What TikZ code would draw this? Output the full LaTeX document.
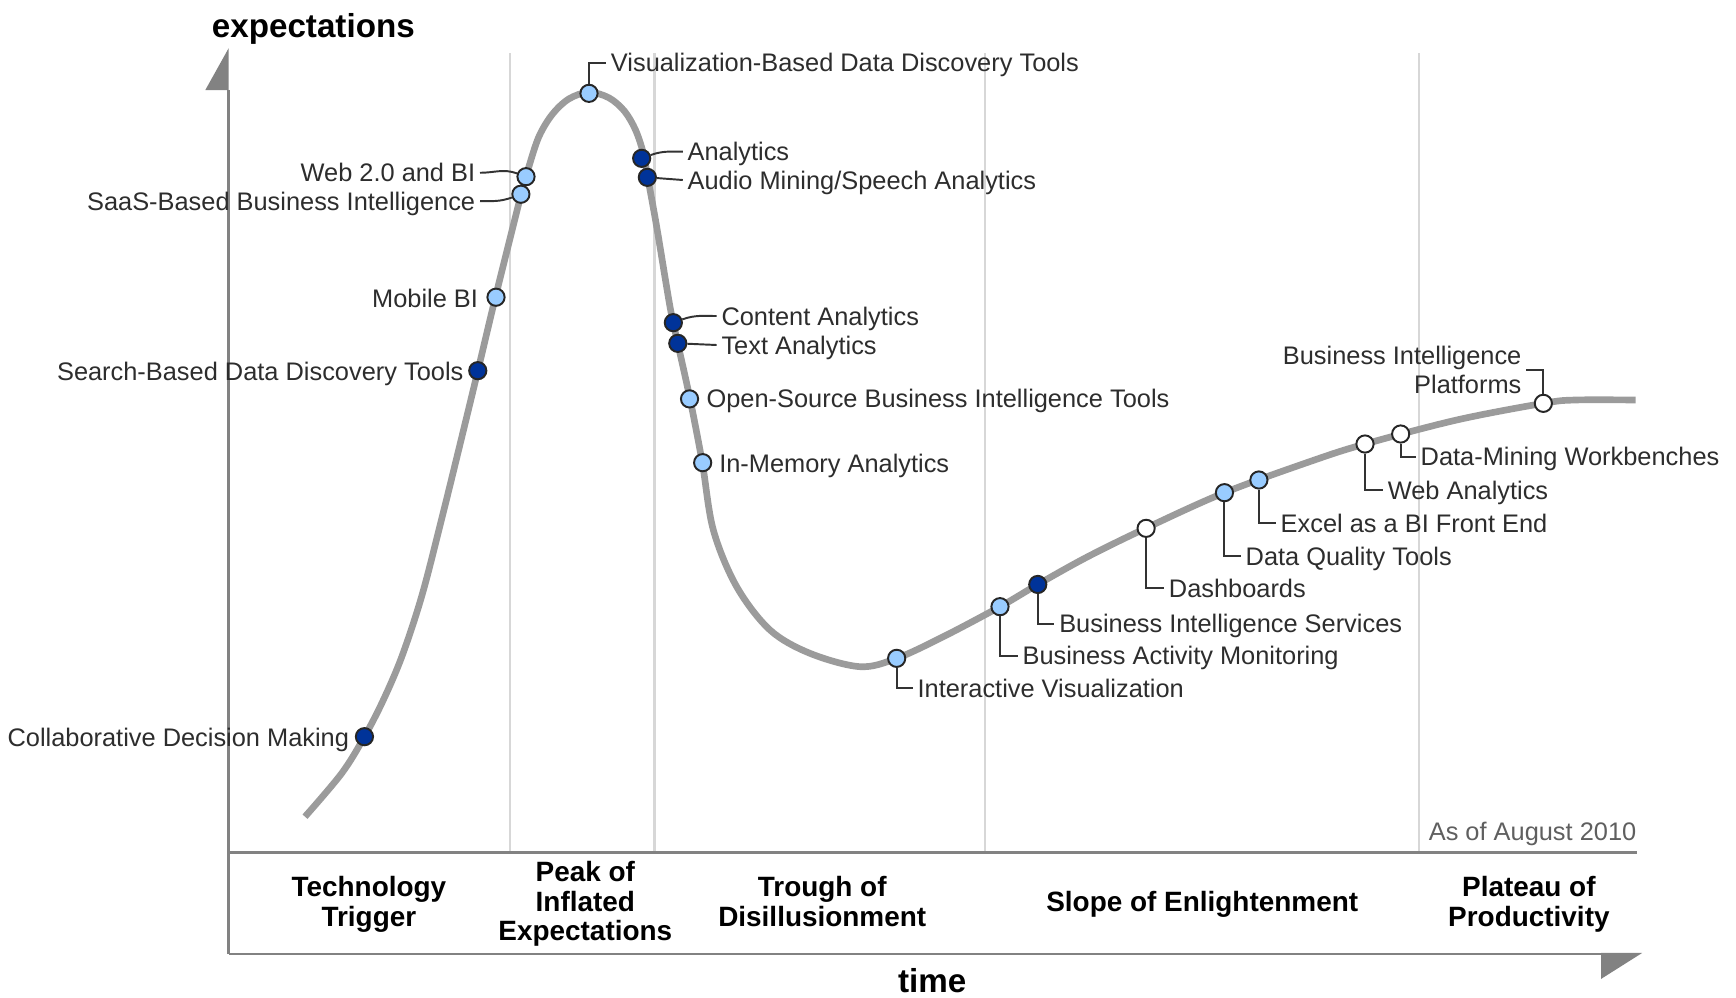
\documentclass[tikz,border=0pt]{standalone}
\usepackage{fontspec}
\setmainfont{Liberation Sans}
\usepackage{tikz}
\usetikzlibrary{arrows.meta, positioning, calc}
\definecolor{curvegray}{RGB}{155,155,155}
\definecolor{axisgray}{RGB}{130,130,130}
\definecolor{gridgray}{RGB}{215,215,215}
\definecolor{dotdarkblue}{RGB}{0,51,153}
\definecolor{dotlightblue}{RGB}{153,204,255}
\definecolor{textgray}{RGB}{45,45,45}
\definecolor{notegray}{RGB}{95,95,95}

\begin{document}
\begin{tikzpicture}[
    x=0.2mm, y=-0.2mm,
    techfont/.style={font=\fontsize{13}{15}\selectfont, text=textgray, inner sep=0.8mm},
    tech/.style={techfont, text height=9.3pt, text depth=0pt},
    phase/.style={font=\fontsize{14.3}{15.2}\selectfont\bfseries, align=center, inner sep=0pt},
    axistitle/.style={font=\fontsize{17}{20}\selectfont\bfseries, inner sep=0pt},
    hcdot/.style={circle, draw=black!85, line width=0.35mm, minimum size=3.1mm, inner sep=0pt},
    dotdark/.style={hcdot, fill=dotdarkblue},
    dotlight/.style={hcdot, fill=dotlightblue},
    dotwhite/.style={hcdot, fill=white},
    conn/.style={draw=black!80, line width=0.35mm},
    hype/.style={draw=curvegray, line width=1.2mm, line join=round}
]
    \useasboundingbox (0,0) rectangle (1562.4,897.3);

    % Phase dividers
    \foreach \px in {459, 589, 886.5, 1277}
        \draw[gridgray, line width=0.4mm] (\px,48) -- (\px,767);

    % Axes
    \draw[axisgray, line width=0.5mm] (205.7,858.6) -- (205.7,81);
    \fill[axisgray] (205.7,43.5) -- (205.7,81) -- (184.8,81) -- cycle;
    \draw[axisgray, line width=0.5mm] (205.7,858.6) -- (1441,858.6);
    \fill[axisgray] (1441,857.6) -- (1478,857.6) -- (1441,881) -- cycle;
    \draw[axisgray, line width=0.5mm] (205.7,767) -- (1473,767);
    \node[axistitle] (ytitle) at (282,26) {expectations};
    \node[axistitle, anchor=base] (xtitle) at (839,893.5) {time};

    % Phases
    \node[phase] (trigger) at (332,813.8) {Technology\\Trigger};
    \node[phase] (peak) at (526.8,813.5) {Peak of\\Inflated\\Expectations};
    \node[phase] (trough) at (740,811.3) {Trough of\\Disillusionment};
    \node[phase] (slope) at (1082,813.8) {Slope of Enlightenment};
    \node[phase] (plateau) at (1376,813.8) {Plateau of\\Productivity};
    \node[tech, anchor=east, text=notegray] (asof) at (1477,748) {As of August 2010};

    % Hype curve
    \draw[hype] plot[smooth, tension=0.55] coordinates {
        (274.5,735) (307.5,696) (328,663) (345,630) (362,590) (380,535)
        (398,465) (414,400) (430,334) (446,267) (469,175) (476,150)
        (485,123) (497,103) (512,89) (530,83) (548,88) (562,100)
        (572,117) (579,138) (583,160) (591,204) (603,276) (610,309)
        (621,359) (632,416) (642,477) (663,528) (693,567) (729,588)
        (774,600) (807,592.5) (849,573) (900,546) (934,526) (979,501)
        (1031,475.5) (1102,443.4) (1183,414) (1228.5,399.6) (1311,378)
        (1389,363) (1417.5,360) (1472,360)};

    % Technologies
    \node[dotdark]  (collab) at (328,663) {};
    \node[dotdark]  (search) at (430,333.6) {};
    \node[dotlight] (mobile) at (446.4,267.5) {};
    \node[dotlight] (saas) at (468.8,174.8) {};
    \node[dotlight] (web) at (473.4,159) {};
    \node[dotlight] (viz) at (530.1,84) {};
    \node[dotdark]  (ana) at (577.5,142.5) {};
    \node[dotdark]  (aud) at (582.6,159.6) {};
    \node[dotdark]  (cont) at (606,290.4) {};
    \node[dotdark]  (txt) at (610,309) {};
    \node[dotlight] (oss) at (620.6,359) {};
    \node[dotlight] (imem) at (632.4,416.4) {};
    \node[dotlight] (iv) at (807,592.5) {};
    \node[dotlight] (bam) at (900,546) {};
    \node[dotdark]  (bis) at (934,526) {};
    \node[dotwhite] (dash) at (1031.5,475.5) {};
    \node[dotlight] (dq) at (1102,443.4) {};
    \node[dotlight] (xl) at (1133,432) {};
    \node[dotwhite] (wa) at (1228.5,399.6) {};
    \node[dotwhite] (dm) at (1260.6,390.6) {};
    \node[dotwhite] (bip) at (1389,363) {};

    % Labels left of the curve
    \node[tech, anchor=east] (collab-l) at (318.5,663.5) {Collaborative Decision Making};
    \node[tech, anchor=east] (search-l) at (421.4,334.5) {Search-Based Data Discovery Tools};
    \node[tech, anchor=east] (mobile-l) at (434.5,268.5) {Mobile BI};
    \node[tech, anchor=east] (saas-l) at (432,181) {SaaS-Based Business Intelligence};
    \node[tech, anchor=east] (web-l) at (432,155.5) {Web 2.0 and BI};

    % Labels right of the curve
    \node[tech, anchor=west] (viz-l) at (545.5,56.5) {Visualization-Based Data Discovery Tools};
    \node[tech, anchor=west] (ana-l) at (614.5,136.5) {Analytics};
    \node[tech, anchor=west] (aud-l) at (614.5,162) {Audio Mining/Speech Analytics};
    \node[tech, anchor=west] (cont-l) at (645,284.4) {Content Analytics};
    \node[tech, anchor=west] (txt-l) at (645,310.5) {Text Analytics};
    \node[tech, anchor=west] (oss-l) at (631.6,359) {Open-Source Business Intelligence Tools};
    \node[tech, anchor=west] (imem-l) at (643,417) {In-Memory Analytics};
    \node[tech, anchor=west] (iv-l) at (821.5,619.5) {Interactive Visualization};
    \node[tech, anchor=west] (bam-l) at (916,590) {Business Activity Monitoring};
    \node[tech, anchor=west] (bis-l) at (949,561.3) {Business Intelligence Services};
    \node[tech, anchor=west] (dash-l) at (1047.7,529.5) {Dashboards};
    \node[tech, anchor=west] (dq-l) at (1116.8,500.4) {Data Quality Tools};
    \node[tech, anchor=west] (xl-l) at (1148.3,471) {Excel as a BI Front End};
    \node[tech, anchor=west] (wa-l) at (1244.7,441) {Web Analytics};
    \node[tech, anchor=west] (dm-l) at (1274.3,411) {Data-Mining Workbenches};
    \node[techfont, anchor=east, align=right] (bip-l) at (1373.6,333) {Business Intelligence\\Platforms};

    % Leader lines
    \draw[conn] (web-l.east) to[out=0,in=160] (web);
    \draw[conn] (saas-l.east) to[out=0,in=200] (saas);
    \draw[conn] (viz) |- (viz-l.west);
    \draw[conn] (ana) to[out=20,in=180] (ana-l.west);
    \draw[conn] (aud) -- (aud-l.west);
    \draw[conn] (cont) to[out=20,in=180] (cont-l.west);
    \draw[conn] (txt) -- (txt-l.west);
    \draw[conn] (iv) |- (iv-l.west);
    \draw[conn] (bam) |- (bam-l.west);
    \draw[conn] (bis) |- (bis-l.west);
    \draw[conn] (dash) |- (dash-l.west);
    \draw[conn] (dq) |- (dq-l.west);
    \draw[conn] (xl) |- (xl-l.west);
    \draw[conn] (wa) |- (wa-l.west);
    \draw[conn] (dm) |- (dm-l.west);
    \draw[conn] (bip) |- (bip-l.east);

\end{tikzpicture}
\end{document}
